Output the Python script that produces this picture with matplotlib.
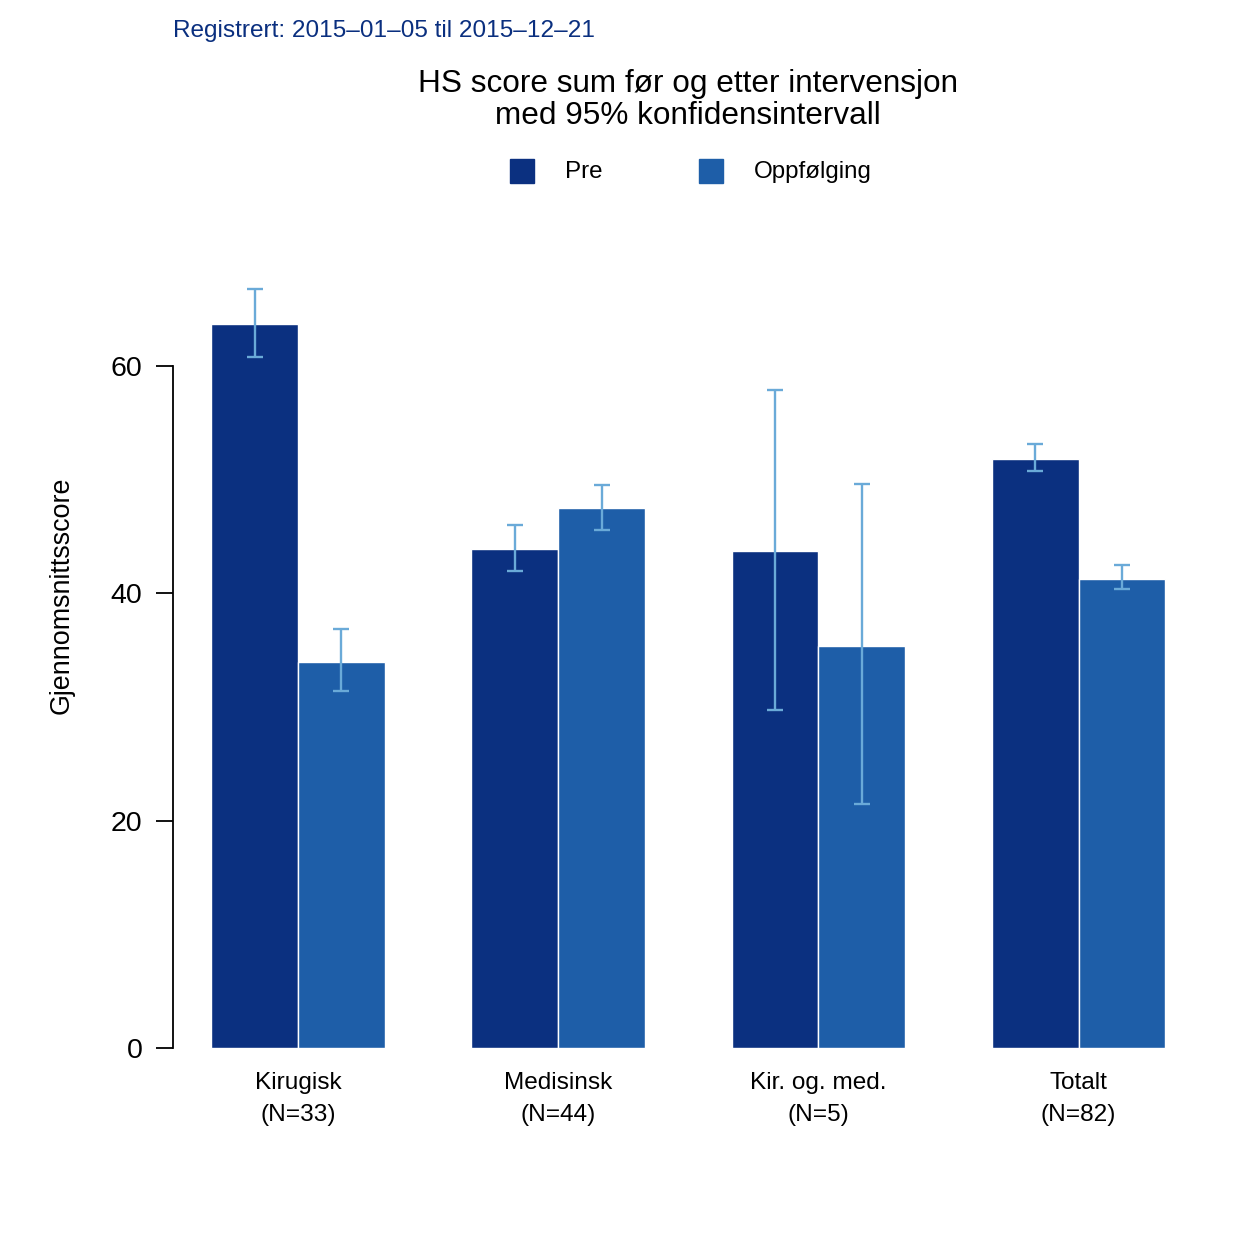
import numpy as np
import matplotlib.pyplot as plt

plt.rcParams['font.family'] = ['Liberation Sans', 'DejaVu Sans']

# data
groups = ['Kirugisk\n(N=33)', 'Medisinsk\n(N=44)', 'Kir. og. med.\n(N=5)', 'Totalt\n(N=82)']
pre = [63.7, 43.9, 43.7, 51.8]
pre_lo = [60.8, 42.0, 29.7, 50.8]
pre_hi = [66.8, 46.0, 57.9, 53.1]
opp = [34.0, 47.5, 35.4, 41.3]
opp_lo = [31.4, 45.6, 21.5, 40.4]
opp_hi = [36.9, 49.5, 49.6, 42.5]

col_pre = '#0B3080'
col_opp = '#1E5EA8'
col_ci = '#6AAAD8'

W, H = 1255, 1237
fig = plt.figure(figsize=(W / 100, H / 100), dpi=100)

# axes placed so that 0 sits at y=1048 px and 60 at y=366 px
ylo, yhi = -1, 68
ppu = (1048 - 366) / 60
top_px = 1048 - yhi * ppu
bot_px = 1048 - ylo * ppu
ax = fig.add_axes([173 / W, 1 - bot_px / H, (1203.5 - 173) / W, (bot_px - top_px) / H])

x = np.arange(len(groups)) * 3 + 1.5
ax.bar(x, pre, width=1, color=col_pre, edgecolor='white', linewidth=1)
ax.bar(x + 1, opp, width=1, color=col_opp, edgecolor='white', linewidth=1)

err_kw = dict(fmt='none', ecolor=col_ci, elinewidth=1.7, capsize=6, capthick=1.7)
ax.errorbar(x, pre, yerr=[np.subtract(pre, pre_lo), np.subtract(pre_hi, pre)], **err_kw)
ax.errorbar(x + 1, opp, yerr=[np.subtract(opp, opp_lo), np.subtract(opp_hi, opp)], **err_kw)

ax.set_xlim(0.56, 12.44)
ax.set_ylim(ylo, yhi)
for s in ['top', 'right', 'bottom']:
    ax.spines[s].set_visible(False)
ax.spines['left'].set_bounds(0, 60)
ax.spines['left'].set_linewidth(1.3)
ax.set_yticks([0, 20, 40, 60])
ax.tick_params(axis='y', length=12, width=1.3, labelsize=20.5, pad=10)
ax.set_xticks(x + 0.5)
ax.set_xticklabels(groups, fontsize=17.6, linespacing=1.6)
ax.tick_params(axis='x', length=0, pad=9)

fig.text(62 / W, 1 - 595 / H, 'Gjennomsnittsscore', rotation=90, ha='center', va='center', fontsize=19.4)
fig.text(173 / W, 1 - 31 / H, 'Registrert: 2015\u201301\u201305 til 2015\u201312\u201321',
         ha='left', va='center', fontsize=17.6, color='#0A2F7F')
fig.text(688 / W, 1 - 100 / H, 'HS score sum f\u00f8r og etter intervensjon\nmed 95% konfidensintervall',
         ha='center', va='center', fontsize=22.7, linespacing=1.1)

# legend drawn by hand to match the wide spacing
for px, lab, c in [(522, 'Pre', col_pre), (711, 'Oppf\u00f8lging', col_opp)]:
    fig.patches.append(plt.Rectangle(((px - 12) / W, 1 - 183 / H), 24 / W, 24 / H,
                                     transform=fig.transFigure, color=c))
    fig.text((px + 43) / W, 1 - 172 / H, lab, ha='left', va='center', fontsize=17.4)

fig.savefig('out.png', dpi=100)
